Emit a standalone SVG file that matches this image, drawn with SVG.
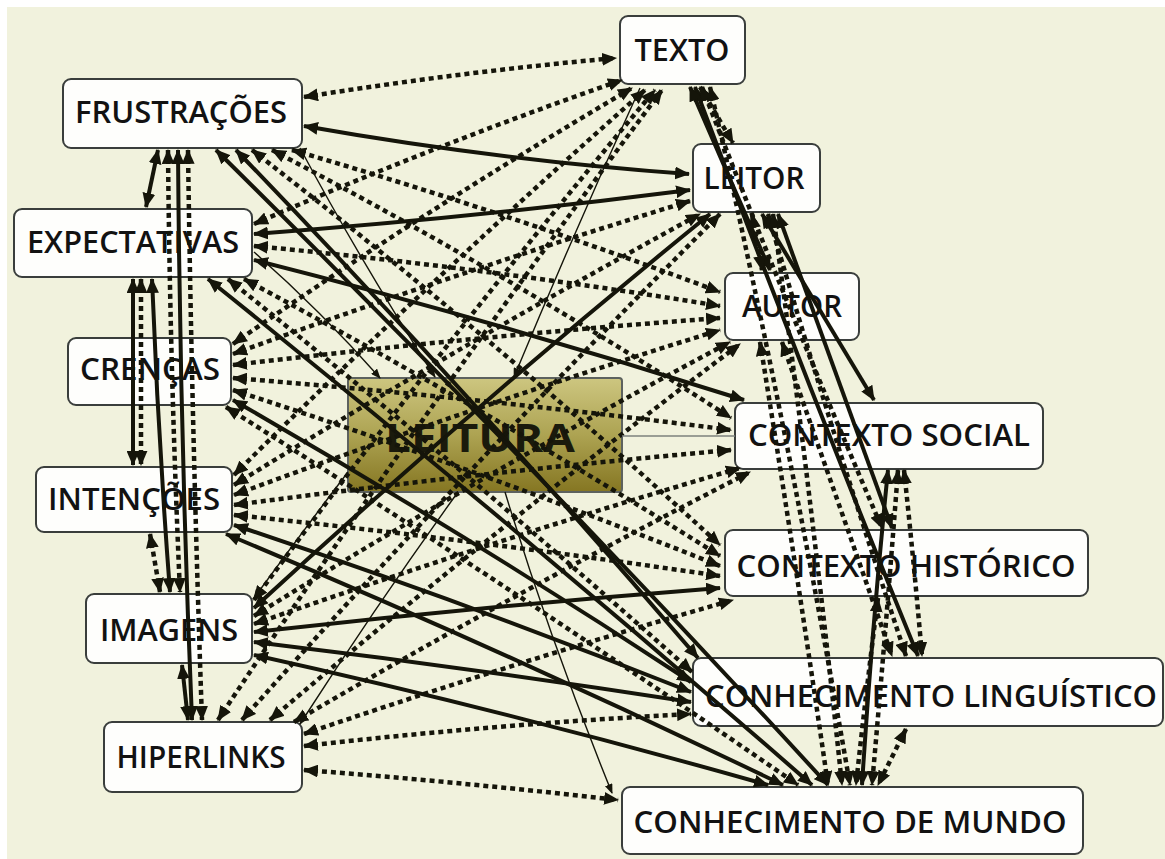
<svg xmlns="http://www.w3.org/2000/svg" width="1165" height="859" viewBox="0 0 1165 859">
<defs>
<linearGradient id="lg" x1="0" y1="0" x2="0" y2="1">
<stop offset="0" stop-color="#cdc680"/>
<stop offset="0.5" stop-color="#ada352"/>
<stop offset="1" stop-color="#857622"/>
</linearGradient>
<marker id="a" viewBox="0 0 14 12" refX="13" refY="6" markerWidth="15" markerHeight="13" markerUnits="userSpaceOnUse" orient="auto-start-reverse">
<path d="M0,0 L14,6 L0,12 z" fill="#15150a"/>
</marker>
<marker id="b" viewBox="0 0 10 8" refX="9" refY="4" markerWidth="10" markerHeight="8" markerUnits="userSpaceOnUse" orient="auto-start-reverse">
<path d="M0,0 L10,4 L0,8 z" fill="#15150a"/>
</marker>
<style>
.bg{fill:#f1f2dd}
.box{fill:#fefefc;stroke:#3a3e3c;stroke-width:2}
.lbl{font-family:"Open Sans","Noto Sans","DejaVu Sans",sans-serif;font-size:30px;font-weight:600;fill:#121212;text-anchor:middle}
.big{font-size:40px;font-weight:bold;fill:#1a1a0c}
.c path{fill:none;stroke:#15150a}
.c .d{stroke-width:4.5;stroke-dasharray:5 4;marker-start:url(#a);marker-end:url(#a)}
.c .s{stroke-width:4;marker-start:url(#a);marker-end:url(#a)}
.c .t{stroke-width:1.4;marker-end:url(#b)}
.c .g{stroke:#7d827c;stroke-width:1.5}
</style>
</defs>
<rect x="7" y="7" width="1158" height="852" class="bg"/>

<g id="nodes">
<g id="leitura"><rect x="348" y="378" width="274" height="114" rx="3" fill="url(#lg)" stroke="#5d625e" stroke-width="2"/><text class="lbl big" x="480" y="452" textLength="190" lengthAdjust="spacingAndGlyphs">LEITURA</text></g>
<g id="texto"><rect class="box" x="620" y="16" width="125" height="68" rx="8"/><text class="lbl" x="682" y="61" textLength="95" lengthAdjust="spacingAndGlyphs">TEXTO</text></g>
<g id="frustracoes"><rect class="box" x="63" y="79" width="239" height="69" rx="8"/><text class="lbl" x="181" y="123" textLength="212" lengthAdjust="spacingAndGlyphs">FRUSTRAÇÕES</text></g>
<g id="expectativas"><rect class="box" x="14" y="209" width="238" height="68" rx="8"/><text class="lbl" x="133" y="253" textLength="212" lengthAdjust="spacingAndGlyphs">EXPECTATIVAS</text></g>
<g id="crencas"><rect class="box" x="68" y="338" width="163" height="67" rx="8"/><text class="lbl" x="150" y="380" textLength="140" lengthAdjust="spacingAndGlyphs">CRENÇAS</text></g>
<g id="intencoes"><rect class="box" x="36" y="467" width="196" height="65" rx="8"/><text class="lbl" x="134" y="510" textLength="172" lengthAdjust="spacingAndGlyphs">INTENÇÕES</text></g>
<g id="imagens"><rect class="box" x="86" y="594" width="166" height="69" rx="8"/><text class="lbl" x="169" y="641" textLength="138" lengthAdjust="spacingAndGlyphs">IMAGENS</text></g>
<g id="hiperlinks"><rect class="box" x="104" y="722" width="198" height="70" rx="8"/><text class="lbl" x="201" y="768" textLength="169" lengthAdjust="spacingAndGlyphs">HIPERLINKS</text></g>
<g id="leitor"><rect class="box" x="693" y="144" width="127" height="68" rx="8"/><text class="lbl" x="754" y="189" textLength="101" lengthAdjust="spacingAndGlyphs">LEITOR</text></g>
<g id="autor"><rect class="box" x="725" y="273" width="134" height="67" rx="8"/><text class="lbl" x="792" y="317" textLength="100" lengthAdjust="spacingAndGlyphs">AUTOR</text></g>
<g id="contexto-social"><rect class="box" x="735" y="403" width="308" height="66" rx="8"/><text class="lbl" x="889" y="446" textLength="282" lengthAdjust="spacingAndGlyphs">CONTEXTO SOCIAL</text></g>
<g id="contexto-historico"><rect class="box" x="725" y="530" width="363" height="66" rx="8"/><text class="lbl" x="906" y="577" textLength="339" lengthAdjust="spacingAndGlyphs">CONTEXTO HISTÓRICO</text></g>
<g id="conhecimento-linguistico"><rect class="box" x="693" y="658" width="470" height="68" rx="8"/><text class="lbl" x="931" y="707" textLength="452" lengthAdjust="spacingAndGlyphs">CONHECIMENTO LINGUÍSTICO</text></g>
<g id="conhecimento-mundo"><rect class="box" x="622" y="787" width="461" height="67" rx="8"/><text class="lbl" x="850" y="833" textLength="433" lengthAdjust="spacingAndGlyphs">CONHECIMENTO DE MUNDO</text></g>
</g>

<g id="connectors" class="c">
<path class="d" d="M304 97 Q460 72 616 58"/>
<path class="s" d="M304 126 Q496 160 689 174"/>
<path class="d" d="M292 150 Q506 212 720 292"/>
<path class="d" d="M272 150 Q510 275 731 418"/>
<path class="d" d="M252 150 Q495 338 720 545"/>
<path class="s" d="M236 150 Q475 398 698 658"/>
<path class="s" d="M216 150 Q530 460 828 785"/>

<path class="d" d="M254 224 Q435 145 622 80"/>
<path class="s" d="M254 234 Q472 218 690 190"/>
<path class="d" d="M254 246 Q487 268 720 306"/>
<path class="s" d="M254 260 Q499 322 744 400"/>
<path class="d" d="M244 279 Q488 410 720 556"/>
<path class="d" d="M228 279 Q466 470 692 672"/>
<path class="s" d="M208 279 Q516 526 812 785"/>

<path class="d" d="M233 344 Q425 210 632 88"/>
<path class="d" d="M233 354 Q458 272 690 201"/>
<path class="d" d="M233 365 Q476 336 720 318"/>
<path class="d" d="M233 378 Q482 398 731 430"/>
<path class="d" d="M233 390 Q480 470 720 566"/>
<path class="s" d="M233 400 Q466 534 691 682"/>
<path class="d" d="M226 407 Q516 590 798 785"/>

<path class="d" d="M234 475 Q432 278 645 90"/>
<path class="d" d="M234 485 Q462 344 700 214"/>
<path class="d" d="M234 495 Q474 406 720 330"/>
<path class="d" d="M234 505 Q482 472 731 450"/>
<path class="d" d="M234 515 Q477 540 720 576"/>
<path class="s" d="M234 525 Q465 602 691 692"/>
<path class="s" d="M226 534 Q508 652 783 785"/>

<path class="d" d="M254 600 Q445 340 655 90"/>
<path class="s" d="M254 608 Q475 405 710 214"/>
<path class="d" d="M254 616 Q486 472 730 342"/>
<path class="d" d="M254 624 Q494 540 740 468"/>
<path class="s" d="M254 632 Q487 606 720 588"/>
<path class="s" d="M254 642 Q472 668 691 702"/>
<path class="s" d="M254 655 Q511 712 768 785"/>

<path class="d" d="M218 720 Q430 400 662 90"/>
<path class="d" d="M242 720 Q472 462 720 214"/>
<path class="d" d="M270 720 Q498 526 740 344"/>
<path class="d" d="M294 722 Q516 592 750 472"/>
<path class="d" d="M304 734 Q515 662 733 600"/>
<path class="d" d="M304 746 Q497 724 691 714"/>
<path class="d" d="M304 770 Q461 782 618 800"/>

<path class="s" d="M178 150 Q180 435 192 720"/>
<path class="d" d="M188 150 Q192 435 202 720"/>
<path class="s" d="M158 150 L146 207"/>
<path class="s" d="M133 279 L133 465"/>
<path class="d" d="M141 279 L141 465"/>
<path class="s" d="M152 279 Q158 435 170 592"/>
<path class="d" d="M168 150 Q170 370 180 592"/>
<path class="d" d="M150 534 L160 592"/>
<path class="s" d="M182 665 L188 720"/>

<path class="s" d="M695 87 Q802 372 918 656"/>
<path class="d" d="M702 87 Q788 310 882 528"/>
<path class="s" d="M762 214 Q818 307 874 400"/>
<path class="d" d="M710 87 Q790 436 850 785"/>
<path class="s" d="M888 470 Q872 628 862 785"/>
<path class="d" d="M768 214 Q833 437 906 656"/>
<path class="d" d="M773 214 Q812 500 842 785"/>
<path class="s" d="M778 214 Q835 371 892 528"/>
<path class="d" d="M760 342 Q796 564 828 785"/>
<path class="d" d="M782 342 Q837 499 892 656"/>
<path class="d" d="M898 470 Q886 628 872 785"/>
<path class="d" d="M904 470 Q914 563 922 656"/>
<path class="d" d="M878 598 Q866 692 856 785"/>
<path class="d" d="M906 729 Q892 757 878 785"/>
<path class="d" d="M700 87 L733 143"/>
<path class="s" d="M690 87 Q730 180 770 270"/>
<path class="d" d="M752 214 L762 270"/>

<path class="t" d="M300 148 Q360 260 435 377"/>
<path class="t" d="M640 88 Q575 230 514 377"/>
<path class="t" d="M505 492 Q550 640 612 793"/>
<path class="t" d="M458 492 Q380 600 300 724"/>
<path class="g" d="M622 436 L735 436"/>
<path class="t" d="M254 252 Q320 310 380 378"/>
<path class="t" d="M348 472 Q300 535 254 598"/>
</g>
</svg>
